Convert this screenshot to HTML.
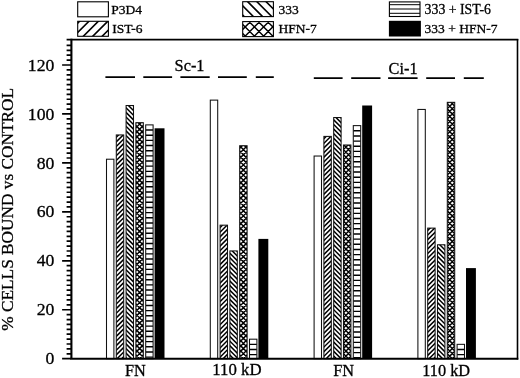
<!DOCTYPE html>
<html><head><meta charset="utf-8"><title>Figure</title>
<style>
html,body{margin:0;padding:0;background:#fff;}
svg{display:block;font-family:"Liberation Serif",serif;fill:#000;}
</style></head><body>
<svg width="520" height="378" viewBox="0 0 520 378">
<defs>
</defs>
<rect width="520" height="378" fill="#fff"/>
<defs><clipPath id="c1"><rect x="116.30" y="134.94" width="7.40" height="223.76"/></clipPath><clipPath id="c2"><rect x="126.10" y="105.52" width="7.40" height="253.18"/></clipPath><clipPath id="c3"><rect x="135.90" y="122.68" width="7.40" height="236.02"/></clipPath><clipPath id="c4"><rect x="145.70" y="124.89" width="7.40" height="233.81"/></clipPath><clipPath id="c5"><rect x="220.10" y="225.18" width="7.40" height="133.52"/></clipPath><clipPath id="c6"><rect x="229.90" y="250.92" width="7.40" height="107.78"/></clipPath><clipPath id="c7"><rect x="239.70" y="145.73" width="7.40" height="212.97"/></clipPath><clipPath id="c8"><rect x="249.50" y="339.19" width="7.40" height="19.51"/></clipPath><clipPath id="c9"><rect x="323.90" y="136.41" width="7.40" height="222.29"/></clipPath><clipPath id="c10"><rect x="333.70" y="117.53" width="7.40" height="241.17"/></clipPath><clipPath id="c11"><rect x="343.50" y="145.00" width="7.40" height="213.70"/></clipPath><clipPath id="c12"><rect x="353.30" y="125.62" width="7.40" height="233.08"/></clipPath><clipPath id="c13"><rect x="427.70" y="228.12" width="7.40" height="130.58"/></clipPath><clipPath id="c14"><rect x="437.50" y="244.79" width="7.40" height="113.91"/></clipPath><clipPath id="c15"><rect x="447.30" y="102.33" width="7.40" height="256.37"/></clipPath><clipPath id="c16"><rect x="457.10" y="344.34" width="7.40" height="14.36"/></clipPath></defs>
<g>
<rect x="106.50" y="159.22" width="7.40" height="199.48" fill="none" stroke="#111" stroke-width="1.05"/>
<path clip-path="url(#c1)" d="M115.30,138.24 L124.70,128.84 M115.30,142.87 L124.70,133.47 M115.30,147.50 L124.70,138.10 M115.30,152.13 L124.70,142.73 M115.30,156.76 L124.70,147.36 M115.30,161.39 L124.70,151.99 M115.30,166.02 L124.70,156.62 M115.30,170.65 L124.70,161.25 M115.30,175.28 L124.70,165.88 M115.30,179.91 L124.70,170.51 M115.30,184.54 L124.70,175.14 M115.30,189.17 L124.70,179.77 M115.30,193.80 L124.70,184.40 M115.30,198.43 L124.70,189.03 M115.30,203.06 L124.70,193.66 M115.30,207.69 L124.70,198.29 M115.30,212.32 L124.70,202.92 M115.30,216.95 L124.70,207.55 M115.30,221.58 L124.70,212.18 M115.30,226.21 L124.70,216.81 M115.30,230.84 L124.70,221.44 M115.30,235.47 L124.70,226.07 M115.30,240.10 L124.70,230.70 M115.30,244.73 L124.70,235.33 M115.30,249.36 L124.70,239.96 M115.30,253.99 L124.70,244.59 M115.30,258.62 L124.70,249.22 M115.30,263.25 L124.70,253.85 M115.30,267.88 L124.70,258.48 M115.30,272.51 L124.70,263.11 M115.30,277.14 L124.70,267.74 M115.30,281.77 L124.70,272.37 M115.30,286.40 L124.70,277.00 M115.30,291.03 L124.70,281.63 M115.30,295.66 L124.70,286.26 M115.30,300.29 L124.70,290.89 M115.30,304.92 L124.70,295.52 M115.30,309.55 L124.70,300.15 M115.30,314.18 L124.70,304.78 M115.30,318.81 L124.70,309.41 M115.30,323.44 L124.70,314.04 M115.30,328.07 L124.70,318.67 M115.30,332.70 L124.70,323.30 M115.30,337.33 L124.70,327.93 M115.30,341.96 L124.70,332.56 M115.30,346.59 L124.70,337.19 M115.30,351.22 L124.70,341.82 M115.30,355.85 L124.70,346.45 M115.30,360.48 L124.70,351.08 M115.30,365.11 L124.70,355.71 " stroke="#000" stroke-width="1.5" fill="none"/>
<rect x="116.30" y="134.94" width="7.40" height="223.76" fill="none" stroke="#111" stroke-width="1.05"/>
<path clip-path="url(#c2)" d="M125.10,356.84 L134.50,366.24 M125.10,352.21 L134.50,361.61 M125.10,347.58 L134.50,356.98 M125.10,342.95 L134.50,352.35 M125.10,338.32 L134.50,347.72 M125.10,333.69 L134.50,343.09 M125.10,329.06 L134.50,338.46 M125.10,324.43 L134.50,333.83 M125.10,319.80 L134.50,329.20 M125.10,315.17 L134.50,324.57 M125.10,310.54 L134.50,319.94 M125.10,305.91 L134.50,315.31 M125.10,301.28 L134.50,310.68 M125.10,296.65 L134.50,306.05 M125.10,292.02 L134.50,301.42 M125.10,287.39 L134.50,296.79 M125.10,282.76 L134.50,292.16 M125.10,278.13 L134.50,287.53 M125.10,273.50 L134.50,282.90 M125.10,268.87 L134.50,278.27 M125.10,264.24 L134.50,273.64 M125.10,259.61 L134.50,269.01 M125.10,254.98 L134.50,264.38 M125.10,250.35 L134.50,259.75 M125.10,245.72 L134.50,255.12 M125.10,241.09 L134.50,250.49 M125.10,236.46 L134.50,245.86 M125.10,231.83 L134.50,241.23 M125.10,227.20 L134.50,236.60 M125.10,222.57 L134.50,231.97 M125.10,217.94 L134.50,227.34 M125.10,213.31 L134.50,222.71 M125.10,208.68 L134.50,218.08 M125.10,204.05 L134.50,213.45 M125.10,199.42 L134.50,208.82 M125.10,194.79 L134.50,204.19 M125.10,190.16 L134.50,199.56 M125.10,185.53 L134.50,194.93 M125.10,180.90 L134.50,190.30 M125.10,176.27 L134.50,185.67 M125.10,171.64 L134.50,181.04 M125.10,167.01 L134.50,176.41 M125.10,162.38 L134.50,171.78 M125.10,157.75 L134.50,167.15 M125.10,153.12 L134.50,162.52 M125.10,148.49 L134.50,157.89 M125.10,143.86 L134.50,153.26 M125.10,139.23 L134.50,148.63 M125.10,134.60 L134.50,144.00 M125.10,129.97 L134.50,139.37 M125.10,125.34 L134.50,134.74 M125.10,120.71 L134.50,130.11 M125.10,116.08 L134.50,125.48 M125.10,111.45 L134.50,120.85 M125.10,106.82 L134.50,116.22 M125.10,102.19 L134.50,111.59 M125.10,97.56 L134.50,106.96 " stroke="#000" stroke-width="1.5" fill="none"/>
<rect x="126.10" y="105.52" width="7.40" height="253.18" fill="none" stroke="#111" stroke-width="1.05"/>
<path clip-path="url(#c3)" d="M134.90,123.70 L144.30,114.30 M134.90,128.80 L144.30,119.40 M134.90,133.90 L144.30,124.50 M134.90,139.00 L144.30,129.60 M134.90,144.10 L144.30,134.70 M134.90,149.20 L144.30,139.80 M134.90,154.30 L144.30,144.90 M134.90,159.40 L144.30,150.00 M134.90,164.50 L144.30,155.10 M134.90,169.60 L144.30,160.20 M134.90,174.70 L144.30,165.30 M134.90,179.80 L144.30,170.40 M134.90,184.90 L144.30,175.50 M134.90,190.00 L144.30,180.60 M134.90,195.10 L144.30,185.70 M134.90,200.20 L144.30,190.80 M134.90,205.30 L144.30,195.90 M134.90,210.40 L144.30,201.00 M134.90,215.50 L144.30,206.10 M134.90,220.60 L144.30,211.20 M134.90,225.70 L144.30,216.30 M134.90,230.80 L144.30,221.40 M134.90,235.90 L144.30,226.50 M134.90,241.00 L144.30,231.60 M134.90,246.10 L144.30,236.70 M134.90,251.20 L144.30,241.80 M134.90,256.30 L144.30,246.90 M134.90,261.40 L144.30,252.00 M134.90,266.50 L144.30,257.10 M134.90,271.60 L144.30,262.20 M134.90,276.70 L144.30,267.30 M134.90,281.80 L144.30,272.40 M134.90,286.90 L144.30,277.50 M134.90,292.00 L144.30,282.60 M134.90,297.10 L144.30,287.70 M134.90,302.20 L144.30,292.80 M134.90,307.30 L144.30,297.90 M134.90,312.40 L144.30,303.00 M134.90,317.50 L144.30,308.10 M134.90,322.60 L144.30,313.20 M134.90,327.70 L144.30,318.30 M134.90,332.80 L144.30,323.40 M134.90,337.90 L144.30,328.50 M134.90,343.00 L144.30,333.60 M134.90,348.10 L144.30,338.70 M134.90,353.20 L144.30,343.80 M134.90,358.30 L144.30,348.90 M134.90,363.40 L144.30,354.00 M134.90,368.50 L144.30,359.10 M134.90,359.10 L144.30,368.50 M134.90,354.00 L144.30,363.40 M134.90,348.90 L144.30,358.30 M134.90,343.80 L144.30,353.20 M134.90,338.70 L144.30,348.10 M134.90,333.60 L144.30,343.00 M134.90,328.50 L144.30,337.90 M134.90,323.40 L144.30,332.80 M134.90,318.30 L144.30,327.70 M134.90,313.20 L144.30,322.60 M134.90,308.10 L144.30,317.50 M134.90,303.00 L144.30,312.40 M134.90,297.90 L144.30,307.30 M134.90,292.80 L144.30,302.20 M134.90,287.70 L144.30,297.10 M134.90,282.60 L144.30,292.00 M134.90,277.50 L144.30,286.90 M134.90,272.40 L144.30,281.80 M134.90,267.30 L144.30,276.70 M134.90,262.20 L144.30,271.60 M134.90,257.10 L144.30,266.50 M134.90,252.00 L144.30,261.40 M134.90,246.90 L144.30,256.30 M134.90,241.80 L144.30,251.20 M134.90,236.70 L144.30,246.10 M134.90,231.60 L144.30,241.00 M134.90,226.50 L144.30,235.90 M134.90,221.40 L144.30,230.80 M134.90,216.30 L144.30,225.70 M134.90,211.20 L144.30,220.60 M134.90,206.10 L144.30,215.50 M134.90,201.00 L144.30,210.40 M134.90,195.90 L144.30,205.30 M134.90,190.80 L144.30,200.20 M134.90,185.70 L144.30,195.10 M134.90,180.60 L144.30,190.00 M134.90,175.50 L144.30,184.90 M134.90,170.40 L144.30,179.80 M134.90,165.30 L144.30,174.70 M134.90,160.20 L144.30,169.60 M134.90,155.10 L144.30,164.50 M134.90,150.00 L144.30,159.40 M134.90,144.90 L144.30,154.30 M134.90,139.80 L144.30,149.20 M134.90,134.70 L144.30,144.10 M134.90,129.60 L144.30,139.00 M134.90,124.50 L144.30,133.90 M134.90,119.40 L144.30,128.80 M134.90,114.30 L144.30,123.70 " stroke="#000" stroke-width="1.45" fill="none"/>
<rect x="135.90" y="122.68" width="7.40" height="236.02" fill="none" stroke="#111" stroke-width="1.05"/>
<path clip-path="url(#c4)" d="M145.70,130.05 H153.10 M145.70,135.21 H153.10 M145.70,140.37 H153.10 M145.70,145.53 H153.10 M145.70,150.69 H153.10 M145.70,155.85 H153.10 M145.70,161.01 H153.10 M145.70,166.17 H153.10 M145.70,171.33 H153.10 M145.70,176.49 H153.10 M145.70,181.65 H153.10 M145.70,186.81 H153.10 M145.70,191.97 H153.10 M145.70,197.13 H153.10 M145.70,202.29 H153.10 M145.70,207.45 H153.10 M145.70,212.61 H153.10 M145.70,217.77 H153.10 M145.70,222.93 H153.10 M145.70,228.09 H153.10 M145.70,233.25 H153.10 M145.70,238.41 H153.10 M145.70,243.57 H153.10 M145.70,248.73 H153.10 M145.70,253.89 H153.10 M145.70,259.05 H153.10 M145.70,264.21 H153.10 M145.70,269.37 H153.10 M145.70,274.53 H153.10 M145.70,279.69 H153.10 M145.70,284.85 H153.10 M145.70,290.01 H153.10 M145.70,295.17 H153.10 M145.70,300.33 H153.10 M145.70,305.49 H153.10 M145.70,310.65 H153.10 M145.70,315.81 H153.10 M145.70,320.97 H153.10 M145.70,326.13 H153.10 M145.70,331.29 H153.10 M145.70,336.45 H153.10 M145.70,341.61 H153.10 M145.70,346.77 H153.10 M145.70,351.93 H153.10 M145.70,357.09 H153.10 " stroke="#000" stroke-width="1.4" fill="none"/>
<rect x="145.70" y="124.89" width="7.40" height="233.81" fill="none" stroke="#111" stroke-width="1.05"/>
<rect x="154.6" y="128.3" width="9.9" height="230.4" fill="#000"/>
<rect x="210.30" y="100.12" width="7.40" height="258.58" fill="none" stroke="#111" stroke-width="1.05"/>
<path clip-path="url(#c5)" d="M219.10,228.48 L228.50,219.08 M219.10,233.11 L228.50,223.71 M219.10,237.74 L228.50,228.34 M219.10,242.37 L228.50,232.97 M219.10,247.00 L228.50,237.60 M219.10,251.63 L228.50,242.23 M219.10,256.26 L228.50,246.86 M219.10,260.89 L228.50,251.49 M219.10,265.52 L228.50,256.12 M219.10,270.15 L228.50,260.75 M219.10,274.78 L228.50,265.38 M219.10,279.41 L228.50,270.01 M219.10,284.04 L228.50,274.64 M219.10,288.67 L228.50,279.27 M219.10,293.30 L228.50,283.90 M219.10,297.93 L228.50,288.53 M219.10,302.56 L228.50,293.16 M219.10,307.19 L228.50,297.79 M219.10,311.82 L228.50,302.42 M219.10,316.45 L228.50,307.05 M219.10,321.08 L228.50,311.68 M219.10,325.71 L228.50,316.31 M219.10,330.34 L228.50,320.94 M219.10,334.97 L228.50,325.57 M219.10,339.60 L228.50,330.20 M219.10,344.23 L228.50,334.83 M219.10,348.86 L228.50,339.46 M219.10,353.49 L228.50,344.09 M219.10,358.12 L228.50,348.72 M219.10,362.75 L228.50,353.35 M219.10,367.38 L228.50,357.98 " stroke="#000" stroke-width="1.5" fill="none"/>
<rect x="220.10" y="225.18" width="7.40" height="133.52" fill="none" stroke="#111" stroke-width="1.05"/>
<path clip-path="url(#c6)" d="M228.90,358.71 L238.30,368.11 M228.90,354.08 L238.30,363.48 M228.90,349.45 L238.30,358.85 M228.90,344.82 L238.30,354.22 M228.90,340.19 L238.30,349.59 M228.90,335.56 L238.30,344.96 M228.90,330.93 L238.30,340.33 M228.90,326.30 L238.30,335.70 M228.90,321.67 L238.30,331.07 M228.90,317.04 L238.30,326.44 M228.90,312.41 L238.30,321.81 M228.90,307.78 L238.30,317.18 M228.90,303.15 L238.30,312.55 M228.90,298.52 L238.30,307.92 M228.90,293.89 L238.30,303.29 M228.90,289.26 L238.30,298.66 M228.90,284.63 L238.30,294.03 M228.90,280.00 L238.30,289.40 M228.90,275.37 L238.30,284.77 M228.90,270.74 L238.30,280.14 M228.90,266.11 L238.30,275.51 M228.90,261.48 L238.30,270.88 M228.90,256.85 L238.30,266.25 M228.90,252.22 L238.30,261.62 M228.90,247.59 L238.30,256.99 M228.90,242.96 L238.30,252.36 " stroke="#000" stroke-width="1.5" fill="none"/>
<rect x="229.90" y="250.92" width="7.40" height="107.78" fill="none" stroke="#111" stroke-width="1.05"/>
<path clip-path="url(#c7)" d="M238.70,149.20 L248.10,139.80 M238.70,154.30 L248.10,144.90 M238.70,159.40 L248.10,150.00 M238.70,164.50 L248.10,155.10 M238.70,169.60 L248.10,160.20 M238.70,174.70 L248.10,165.30 M238.70,179.80 L248.10,170.40 M238.70,184.90 L248.10,175.50 M238.70,190.00 L248.10,180.60 M238.70,195.10 L248.10,185.70 M238.70,200.20 L248.10,190.80 M238.70,205.30 L248.10,195.90 M238.70,210.40 L248.10,201.00 M238.70,215.50 L248.10,206.10 M238.70,220.60 L248.10,211.20 M238.70,225.70 L248.10,216.30 M238.70,230.80 L248.10,221.40 M238.70,235.90 L248.10,226.50 M238.70,241.00 L248.10,231.60 M238.70,246.10 L248.10,236.70 M238.70,251.20 L248.10,241.80 M238.70,256.30 L248.10,246.90 M238.70,261.40 L248.10,252.00 M238.70,266.50 L248.10,257.10 M238.70,271.60 L248.10,262.20 M238.70,276.70 L248.10,267.30 M238.70,281.80 L248.10,272.40 M238.70,286.90 L248.10,277.50 M238.70,292.00 L248.10,282.60 M238.70,297.10 L248.10,287.70 M238.70,302.20 L248.10,292.80 M238.70,307.30 L248.10,297.90 M238.70,312.40 L248.10,303.00 M238.70,317.50 L248.10,308.10 M238.70,322.60 L248.10,313.20 M238.70,327.70 L248.10,318.30 M238.70,332.80 L248.10,323.40 M238.70,337.90 L248.10,328.50 M238.70,343.00 L248.10,333.60 M238.70,348.10 L248.10,338.70 M238.70,353.20 L248.10,343.80 M238.70,358.30 L248.10,348.90 M238.70,363.40 L248.10,354.00 M238.70,368.50 L248.10,359.10 M238.70,359.10 L248.10,368.50 M238.70,354.00 L248.10,363.40 M238.70,348.90 L248.10,358.30 M238.70,343.80 L248.10,353.20 M238.70,338.70 L248.10,348.10 M238.70,333.60 L248.10,343.00 M238.70,328.50 L248.10,337.90 M238.70,323.40 L248.10,332.80 M238.70,318.30 L248.10,327.70 M238.70,313.20 L248.10,322.60 M238.70,308.10 L248.10,317.50 M238.70,303.00 L248.10,312.40 M238.70,297.90 L248.10,307.30 M238.70,292.80 L248.10,302.20 M238.70,287.70 L248.10,297.10 M238.70,282.60 L248.10,292.00 M238.70,277.50 L248.10,286.90 M238.70,272.40 L248.10,281.80 M238.70,267.30 L248.10,276.70 M238.70,262.20 L248.10,271.60 M238.70,257.10 L248.10,266.50 M238.70,252.00 L248.10,261.40 M238.70,246.90 L248.10,256.30 M238.70,241.80 L248.10,251.20 M238.70,236.70 L248.10,246.10 M238.70,231.60 L248.10,241.00 M238.70,226.50 L248.10,235.90 M238.70,221.40 L248.10,230.80 M238.70,216.30 L248.10,225.70 M238.70,211.20 L248.10,220.60 M238.70,206.10 L248.10,215.50 M238.70,201.00 L248.10,210.40 M238.70,195.90 L248.10,205.30 M238.70,190.80 L248.10,200.20 M238.70,185.70 L248.10,195.10 M238.70,180.60 L248.10,190.00 M238.70,175.50 L248.10,184.90 M238.70,170.40 L248.10,179.80 M238.70,165.30 L248.10,174.70 M238.70,160.20 L248.10,169.60 M238.70,155.10 L248.10,164.50 M238.70,150.00 L248.10,159.40 M238.70,144.90 L248.10,154.30 M238.70,139.80 L248.10,149.20 " stroke="#000" stroke-width="1.45" fill="none"/>
<rect x="239.70" y="145.73" width="7.40" height="212.97" fill="none" stroke="#111" stroke-width="1.05"/>
<path clip-path="url(#c8)" d="M249.50,344.35 H256.90 M249.50,349.51 H256.90 M249.50,354.67 H256.90 " stroke="#000" stroke-width="1.4" fill="none"/>
<rect x="249.50" y="339.19" width="7.40" height="19.51" fill="none" stroke="#111" stroke-width="1.05"/>
<rect x="258.4" y="238.9" width="9.9" height="119.8" fill="#000"/>
<rect x="314.10" y="156.03" width="7.40" height="202.67" fill="none" stroke="#111" stroke-width="1.05"/>
<path clip-path="url(#c9)" d="M322.90,139.71 L332.30,130.31 M322.90,144.34 L332.30,134.94 M322.90,148.97 L332.30,139.57 M322.90,153.60 L332.30,144.20 M322.90,158.23 L332.30,148.83 M322.90,162.86 L332.30,153.46 M322.90,167.49 L332.30,158.09 M322.90,172.12 L332.30,162.72 M322.90,176.75 L332.30,167.35 M322.90,181.38 L332.30,171.98 M322.90,186.01 L332.30,176.61 M322.90,190.64 L332.30,181.24 M322.90,195.27 L332.30,185.87 M322.90,199.90 L332.30,190.50 M322.90,204.53 L332.30,195.13 M322.90,209.16 L332.30,199.76 M322.90,213.79 L332.30,204.39 M322.90,218.42 L332.30,209.02 M322.90,223.05 L332.30,213.65 M322.90,227.68 L332.30,218.28 M322.90,232.31 L332.30,222.91 M322.90,236.94 L332.30,227.54 M322.90,241.57 L332.30,232.17 M322.90,246.20 L332.30,236.80 M322.90,250.83 L332.30,241.43 M322.90,255.46 L332.30,246.06 M322.90,260.09 L332.30,250.69 M322.90,264.72 L332.30,255.32 M322.90,269.35 L332.30,259.95 M322.90,273.98 L332.30,264.58 M322.90,278.61 L332.30,269.21 M322.90,283.24 L332.30,273.84 M322.90,287.87 L332.30,278.47 M322.90,292.50 L332.30,283.10 M322.90,297.13 L332.30,287.73 M322.90,301.76 L332.30,292.36 M322.90,306.39 L332.30,296.99 M322.90,311.02 L332.30,301.62 M322.90,315.65 L332.30,306.25 M322.90,320.28 L332.30,310.88 M322.90,324.91 L332.30,315.51 M322.90,329.54 L332.30,320.14 M322.90,334.17 L332.30,324.77 M322.90,338.80 L332.30,329.40 M322.90,343.43 L332.30,334.03 M322.90,348.06 L332.30,338.66 M322.90,352.69 L332.30,343.29 M322.90,357.32 L332.30,347.92 M322.90,361.95 L332.30,352.55 M322.90,366.58 L332.30,357.18 " stroke="#000" stroke-width="1.5" fill="none"/>
<rect x="323.90" y="136.41" width="7.40" height="222.29" fill="none" stroke="#111" stroke-width="1.05"/>
<path clip-path="url(#c10)" d="M332.70,359.59 L342.10,368.99 M332.70,354.96 L342.10,364.36 M332.70,350.33 L342.10,359.73 M332.70,345.70 L342.10,355.10 M332.70,341.07 L342.10,350.47 M332.70,336.44 L342.10,345.84 M332.70,331.81 L342.10,341.21 M332.70,327.18 L342.10,336.58 M332.70,322.55 L342.10,331.95 M332.70,317.92 L342.10,327.32 M332.70,313.29 L342.10,322.69 M332.70,308.66 L342.10,318.06 M332.70,304.03 L342.10,313.43 M332.70,299.40 L342.10,308.80 M332.70,294.77 L342.10,304.17 M332.70,290.14 L342.10,299.54 M332.70,285.51 L342.10,294.91 M332.70,280.88 L342.10,290.28 M332.70,276.25 L342.10,285.65 M332.70,271.62 L342.10,281.02 M332.70,266.99 L342.10,276.39 M332.70,262.36 L342.10,271.76 M332.70,257.73 L342.10,267.13 M332.70,253.10 L342.10,262.50 M332.70,248.47 L342.10,257.87 M332.70,243.84 L342.10,253.24 M332.70,239.21 L342.10,248.61 M332.70,234.58 L342.10,243.98 M332.70,229.95 L342.10,239.35 M332.70,225.32 L342.10,234.72 M332.70,220.69 L342.10,230.09 M332.70,216.06 L342.10,225.46 M332.70,211.43 L342.10,220.83 M332.70,206.80 L342.10,216.20 M332.70,202.17 L342.10,211.57 M332.70,197.54 L342.10,206.94 M332.70,192.91 L342.10,202.31 M332.70,188.28 L342.10,197.68 M332.70,183.65 L342.10,193.05 M332.70,179.02 L342.10,188.42 M332.70,174.39 L342.10,183.79 M332.70,169.76 L342.10,179.16 M332.70,165.13 L342.10,174.53 M332.70,160.50 L342.10,169.90 M332.70,155.87 L342.10,165.27 M332.70,151.24 L342.10,160.64 M332.70,146.61 L342.10,156.01 M332.70,141.98 L342.10,151.38 M332.70,137.35 L342.10,146.75 M332.70,132.72 L342.10,142.12 M332.70,128.09 L342.10,137.49 M332.70,123.46 L342.10,132.86 M332.70,118.83 L342.10,128.23 M332.70,114.20 L342.10,123.60 M332.70,109.57 L342.10,118.97 " stroke="#000" stroke-width="1.5" fill="none"/>
<rect x="333.70" y="117.53" width="7.40" height="241.17" fill="none" stroke="#111" stroke-width="1.05"/>
<path clip-path="url(#c11)" d="M342.50,145.38 L351.90,135.98 M342.50,150.47 L351.90,141.07 M342.50,155.57 L351.90,146.17 M342.50,160.67 L351.90,151.27 M342.50,165.77 L351.90,156.38 M342.50,170.88 L351.90,161.48 M342.50,175.97 L351.90,166.57 M342.50,181.07 L351.90,171.67 M342.50,186.17 L351.90,176.77 M342.50,191.27 L351.90,181.88 M342.50,196.38 L351.90,186.98 M342.50,201.47 L351.90,192.07 M342.50,206.57 L351.90,197.17 M342.50,211.67 L351.90,202.27 M342.50,216.77 L351.90,207.38 M342.50,221.88 L351.90,212.48 M342.50,226.97 L351.90,217.57 M342.50,232.07 L351.90,222.67 M342.50,237.17 L351.90,227.77 M342.50,242.27 L351.90,232.88 M342.50,247.38 L351.90,237.98 M342.50,252.47 L351.90,243.07 M342.50,257.57 L351.90,248.17 M342.50,262.67 L351.90,253.27 M342.50,267.77 L351.90,258.38 M342.50,272.88 L351.90,263.48 M342.50,277.97 L351.90,268.57 M342.50,283.07 L351.90,273.67 M342.50,288.17 L351.90,278.77 M342.50,293.27 L351.90,283.88 M342.50,298.38 L351.90,288.98 M342.50,303.47 L351.90,294.07 M342.50,308.57 L351.90,299.17 M342.50,313.67 L351.90,304.27 M342.50,318.77 L351.90,309.38 M342.50,323.88 L351.90,314.48 M342.50,328.97 L351.90,319.57 M342.50,334.07 L351.90,324.67 M342.50,339.17 L351.90,329.77 M342.50,344.27 L351.90,334.88 M342.50,349.38 L351.90,339.98 M342.50,354.47 L351.90,345.07 M342.50,359.57 L351.90,350.17 M342.50,364.67 L351.90,355.27 M342.50,357.82 L351.90,367.22 M342.50,352.73 L351.90,362.12 M342.50,347.62 L351.90,357.02 M342.50,342.52 L351.90,351.92 M342.50,337.43 L351.90,346.82 M342.50,332.32 L351.90,341.72 M342.50,327.23 L351.90,336.62 M342.50,322.12 L351.90,331.52 M342.50,317.02 L351.90,326.42 M342.50,311.93 L351.90,321.32 M342.50,306.82 L351.90,316.22 M342.50,301.73 L351.90,311.12 M342.50,296.62 L351.90,306.02 M342.50,291.52 L351.90,300.92 M342.50,286.43 L351.90,295.82 M342.50,281.32 L351.90,290.72 M342.50,276.23 L351.90,285.62 M342.50,271.12 L351.90,280.52 M342.50,266.02 L351.90,275.42 M342.50,260.93 L351.90,270.32 M342.50,255.82 L351.90,265.22 M342.50,250.72 L351.90,260.12 M342.50,245.62 L351.90,255.02 M342.50,240.53 L351.90,249.92 M342.50,235.43 L351.90,244.82 M342.50,230.32 L351.90,239.72 M342.50,225.23 L351.90,234.62 M342.50,220.12 L351.90,229.52 M342.50,215.03 L351.90,224.42 M342.50,209.93 L351.90,219.32 M342.50,204.83 L351.90,214.22 M342.50,199.72 L351.90,209.12 M342.50,194.62 L351.90,204.02 M342.50,189.53 L351.90,198.92 M342.50,184.43 L351.90,193.82 M342.50,179.33 L351.90,188.72 M342.50,174.22 L351.90,183.62 M342.50,169.12 L351.90,178.52 M342.50,164.03 L351.90,173.42 M342.50,158.93 L351.90,168.32 M342.50,153.83 L351.90,163.22 M342.50,148.72 L351.90,158.12 M342.50,143.62 L351.90,153.02 M342.50,138.53 L351.90,147.92 " stroke="#000" stroke-width="1.45" fill="none"/>
<rect x="343.50" y="145.00" width="7.40" height="213.70" fill="none" stroke="#111" stroke-width="1.05"/>
<path clip-path="url(#c12)" d="M353.30,130.78 H360.70 M353.30,135.94 H360.70 M353.30,141.10 H360.70 M353.30,146.26 H360.70 M353.30,151.42 H360.70 M353.30,156.58 H360.70 M353.30,161.74 H360.70 M353.30,166.90 H360.70 M353.30,172.06 H360.70 M353.30,177.22 H360.70 M353.30,182.38 H360.70 M353.30,187.54 H360.70 M353.30,192.70 H360.70 M353.30,197.86 H360.70 M353.30,203.02 H360.70 M353.30,208.18 H360.70 M353.30,213.34 H360.70 M353.30,218.50 H360.70 M353.30,223.66 H360.70 M353.30,228.82 H360.70 M353.30,233.98 H360.70 M353.30,239.14 H360.70 M353.30,244.30 H360.70 M353.30,249.46 H360.70 M353.30,254.62 H360.70 M353.30,259.78 H360.70 M353.30,264.94 H360.70 M353.30,270.10 H360.70 M353.30,275.26 H360.70 M353.30,280.42 H360.70 M353.30,285.58 H360.70 M353.30,290.74 H360.70 M353.30,295.90 H360.70 M353.30,301.06 H360.70 M353.30,306.22 H360.70 M353.30,311.38 H360.70 M353.30,316.54 H360.70 M353.30,321.70 H360.70 M353.30,326.86 H360.70 M353.30,332.02 H360.70 M353.30,337.18 H360.70 M353.30,342.34 H360.70 M353.30,347.50 H360.70 M353.30,352.66 H360.70 M353.30,357.82 H360.70 " stroke="#000" stroke-width="1.4" fill="none"/>
<rect x="353.30" y="125.62" width="7.40" height="233.08" fill="none" stroke="#111" stroke-width="1.05"/>
<rect x="362.2" y="105.5" width="9.9" height="253.2" fill="#000"/>
<rect x="417.90" y="109.44" width="7.40" height="249.26" fill="none" stroke="#111" stroke-width="1.05"/>
<path clip-path="url(#c13)" d="M426.70,231.42 L436.10,222.02 M426.70,236.05 L436.10,226.65 M426.70,240.68 L436.10,231.28 M426.70,245.31 L436.10,235.91 M426.70,249.94 L436.10,240.54 M426.70,254.57 L436.10,245.17 M426.70,259.20 L436.10,249.80 M426.70,263.83 L436.10,254.43 M426.70,268.46 L436.10,259.06 M426.70,273.09 L436.10,263.69 M426.70,277.72 L436.10,268.32 M426.70,282.35 L436.10,272.95 M426.70,286.98 L436.10,277.58 M426.70,291.61 L436.10,282.21 M426.70,296.24 L436.10,286.84 M426.70,300.87 L436.10,291.47 M426.70,305.50 L436.10,296.10 M426.70,310.13 L436.10,300.73 M426.70,314.76 L436.10,305.36 M426.70,319.39 L436.10,309.99 M426.70,324.02 L436.10,314.62 M426.70,328.65 L436.10,319.25 M426.70,333.28 L436.10,323.88 M426.70,337.91 L436.10,328.51 M426.70,342.54 L436.10,333.14 M426.70,347.17 L436.10,337.77 M426.70,351.80 L436.10,342.40 M426.70,356.43 L436.10,347.03 M426.70,361.06 L436.10,351.66 M426.70,365.69 L436.10,356.29 " stroke="#000" stroke-width="1.5" fill="none"/>
<rect x="427.70" y="228.12" width="7.40" height="130.58" fill="none" stroke="#111" stroke-width="1.05"/>
<path clip-path="url(#c14)" d="M436.50,357.21 L445.90,366.61 M436.50,352.58 L445.90,361.98 M436.50,347.95 L445.90,357.35 M436.50,343.32 L445.90,352.72 M436.50,338.69 L445.90,348.09 M436.50,334.06 L445.90,343.46 M436.50,329.43 L445.90,338.83 M436.50,324.80 L445.90,334.20 M436.50,320.17 L445.90,329.57 M436.50,315.54 L445.90,324.94 M436.50,310.91 L445.90,320.31 M436.50,306.28 L445.90,315.68 M436.50,301.65 L445.90,311.05 M436.50,297.02 L445.90,306.42 M436.50,292.39 L445.90,301.79 M436.50,287.76 L445.90,297.16 M436.50,283.13 L445.90,292.53 M436.50,278.50 L445.90,287.90 M436.50,273.87 L445.90,283.27 M436.50,269.24 L445.90,278.64 M436.50,264.61 L445.90,274.01 M436.50,259.98 L445.90,269.38 M436.50,255.35 L445.90,264.75 M436.50,250.72 L445.90,260.12 M436.50,246.09 L445.90,255.49 M436.50,241.46 L445.90,250.86 M436.50,236.83 L445.90,246.23 " stroke="#000" stroke-width="1.5" fill="none"/>
<rect x="437.50" y="244.79" width="7.40" height="113.91" fill="none" stroke="#111" stroke-width="1.05"/>
<path clip-path="url(#c15)" d="M446.30,104.58 L455.70,95.18 M446.30,109.67 L455.70,100.27 M446.30,114.77 L455.70,105.38 M446.30,119.88 L455.70,110.48 M446.30,124.97 L455.70,115.57 M446.30,130.07 L455.70,120.67 M446.30,135.17 L455.70,125.77 M446.30,140.27 L455.70,130.88 M446.30,145.38 L455.70,135.98 M446.30,150.47 L455.70,141.07 M446.30,155.57 L455.70,146.17 M446.30,160.67 L455.70,151.27 M446.30,165.77 L455.70,156.38 M446.30,170.88 L455.70,161.48 M446.30,175.97 L455.70,166.57 M446.30,181.07 L455.70,171.67 M446.30,186.17 L455.70,176.77 M446.30,191.27 L455.70,181.88 M446.30,196.38 L455.70,186.98 M446.30,201.47 L455.70,192.07 M446.30,206.57 L455.70,197.17 M446.30,211.67 L455.70,202.27 M446.30,216.77 L455.70,207.38 M446.30,221.88 L455.70,212.48 M446.30,226.97 L455.70,217.57 M446.30,232.07 L455.70,222.67 M446.30,237.17 L455.70,227.77 M446.30,242.27 L455.70,232.88 M446.30,247.38 L455.70,237.98 M446.30,252.47 L455.70,243.07 M446.30,257.57 L455.70,248.17 M446.30,262.67 L455.70,253.27 M446.30,267.77 L455.70,258.38 M446.30,272.88 L455.70,263.48 M446.30,277.97 L455.70,268.57 M446.30,283.07 L455.70,273.67 M446.30,288.17 L455.70,278.77 M446.30,293.27 L455.70,283.88 M446.30,298.38 L455.70,288.98 M446.30,303.47 L455.70,294.07 M446.30,308.57 L455.70,299.17 M446.30,313.67 L455.70,304.27 M446.30,318.77 L455.70,309.38 M446.30,323.88 L455.70,314.48 M446.30,328.97 L455.70,319.57 M446.30,334.07 L455.70,324.67 M446.30,339.17 L455.70,329.77 M446.30,344.27 L455.70,334.88 M446.30,349.38 L455.70,339.98 M446.30,354.47 L455.70,345.07 M446.30,359.57 L455.70,350.17 M446.30,364.67 L455.70,355.27 M446.30,357.82 L455.70,367.22 M446.30,352.73 L455.70,362.12 M446.30,347.62 L455.70,357.02 M446.30,342.52 L455.70,351.92 M446.30,337.43 L455.70,346.82 M446.30,332.32 L455.70,341.72 M446.30,327.23 L455.70,336.62 M446.30,322.12 L455.70,331.52 M446.30,317.02 L455.70,326.42 M446.30,311.93 L455.70,321.32 M446.30,306.82 L455.70,316.22 M446.30,301.73 L455.70,311.12 M446.30,296.62 L455.70,306.02 M446.30,291.52 L455.70,300.92 M446.30,286.43 L455.70,295.82 M446.30,281.32 L455.70,290.72 M446.30,276.23 L455.70,285.62 M446.30,271.12 L455.70,280.52 M446.30,266.02 L455.70,275.42 M446.30,260.93 L455.70,270.32 M446.30,255.82 L455.70,265.22 M446.30,250.72 L455.70,260.12 M446.30,245.62 L455.70,255.02 M446.30,240.53 L455.70,249.92 M446.30,235.43 L455.70,244.82 M446.30,230.32 L455.70,239.72 M446.30,225.23 L455.70,234.62 M446.30,220.12 L455.70,229.52 M446.30,215.03 L455.70,224.42 M446.30,209.93 L455.70,219.32 M446.30,204.83 L455.70,214.22 M446.30,199.72 L455.70,209.12 M446.30,194.62 L455.70,204.02 M446.30,189.52 L455.70,198.92 M446.30,184.43 L455.70,193.82 M446.30,179.33 L455.70,188.73 M446.30,174.23 L455.70,183.62 M446.30,169.12 L455.70,178.52 M446.30,164.02 L455.70,173.42 M446.30,158.93 L455.70,168.32 M446.30,153.83 L455.70,163.23 M446.30,148.73 L455.70,158.12 M446.30,143.62 L455.70,153.02 M446.30,138.52 L455.70,147.92 M446.30,133.43 L455.70,142.82 M446.30,128.33 L455.70,137.73 M446.30,123.23 L455.70,132.62 M446.30,118.12 L455.70,127.52 M446.30,113.02 L455.70,122.42 M446.30,107.93 L455.70,117.32 M446.30,102.83 L455.70,112.23 M446.30,97.73 L455.70,107.12 M446.30,92.62 L455.70,102.02 " stroke="#000" stroke-width="1.45" fill="none"/>
<rect x="447.30" y="102.33" width="7.40" height="256.37" fill="none" stroke="#111" stroke-width="1.05"/>
<path clip-path="url(#c16)" d="M457.10,349.50 H464.50 M457.10,354.66 H464.50 " stroke="#000" stroke-width="1.4" fill="none"/>
<rect x="457.10" y="344.34" width="7.40" height="14.36" fill="none" stroke="#111" stroke-width="1.05"/>
<rect x="466.0" y="268.1" width="9.9" height="90.6" fill="#000"/>
</g>
<g stroke="#000" fill="none">
<path d="M71.4,38.8 V358.7" stroke-width="2.1"/>
<path d="M70.3,358.7 H518.3" stroke-width="1.9"/>
<path d="M66.6,39.7 H518.3" stroke-width="1.7"/>
<path d="M517.5,38.9 V359.59999999999997" stroke-width="1.6"/>
<path d="M62.1,358.70 H71 M66.6,353.81 H71 M66.6,348.91 H71 M66.6,344.01 H71 M66.6,339.12 H71 M66.6,334.22 H71 M66.6,329.33 H71 M66.6,324.44 H71 M66.6,319.54 H71 M66.6,314.64 H71 M62.1,309.75 H71 M66.6,304.86 H71 M66.6,299.96 H71 M66.6,295.06 H71 M66.6,290.17 H71 M66.6,285.27 H71 M66.6,280.38 H71 M66.6,275.49 H71 M66.6,270.59 H71 M66.6,265.69 H71 M62.1,260.80 H71 M66.6,255.91 H71 M66.6,251.01 H71 M66.6,246.12 H71 M66.6,241.22 H71 M66.6,236.32 H71 M66.6,231.43 H71 M66.6,226.53 H71 M66.6,221.64 H71 M66.6,216.75 H71 M62.1,211.85 H71 M66.6,206.96 H71 M66.6,202.06 H71 M66.6,197.16 H71 M66.6,192.27 H71 M66.6,187.38 H71 M66.6,182.48 H71 M66.6,177.59 H71 M66.6,172.69 H71 M66.6,167.80 H71 M62.1,162.90 H71 M66.6,158.00 H71 M66.6,153.11 H71 M66.6,148.22 H71 M66.6,143.32 H71 M66.6,138.43 H71 M66.6,133.53 H71 M66.6,128.64 H71 M66.6,123.74 H71 M66.6,118.84 H71 M62.1,113.95 H71 M66.6,109.06 H71 M66.6,104.16 H71 M66.6,99.26 H71 M66.6,94.37 H71 M66.6,89.48 H71 M66.6,84.58 H71 M66.6,79.69 H71 M66.6,74.79 H71 M66.6,69.90 H71 M62.1,65.00 H71 M66.6,60.11 H71 M66.6,55.21 H71 M66.6,50.31 H71 M66.6,45.42 H71 " stroke-width="1.7"/>
<path d="M105.4,77.2 H135 M143.3,77.2 H172.1 M180.4,77.2 H209.7 M218,77.2 H246.8 M255.8,77.2 H273.8" stroke-width="1.8"/>
<path d="M313.8,78.2 H342.6 M351.2,78.2 H380.5 M388.1,78.2 H417.6 M426.2,78.2 H455 M463.8,78.2 H483.8" stroke-width="1.8"/>
</g>
<g font-size="16.3" stroke="#000" stroke-width="0.3">
<text x="54.4" y="364.3" text-anchor="end" font-size="17.7">0</text>
<text x="54.4" y="315.4" text-anchor="end" font-size="17.7">20</text>
<text x="54.4" y="266.4" text-anchor="end" font-size="17.7">40</text>
<text x="54.4" y="217.4" text-anchor="end" font-size="17.7">60</text>
<text x="54.4" y="168.5" text-anchor="end" font-size="17.7">80</text>
<text x="54.4" y="119.6" text-anchor="end" font-size="17.7">100</text>
<text x="54.4" y="70.6" text-anchor="end" font-size="17.7">120</text>
<text x="174.6" y="71.2">Sc-1</text>
<text x="388.6" y="73.8">Ci-1</text>
<text x="135.3" y="375.5" text-anchor="middle">FN</text>
<text x="236.9" y="375.3" text-anchor="middle" font-size="16.8">110 kD</text>
<text x="343.6" y="375.6" text-anchor="middle">FN</text>
<text x="446.2" y="375.5" text-anchor="middle" font-size="16.3">110 kD</text>
<text transform="translate(13.2,209.3) rotate(-90)" text-anchor="middle" font-size="17.3">% CELLS BOUND vs CONTROL</text>
</g>
<defs><clipPath id="l1"><rect x="77.70" y="21.30" width="30.70" height="15.00"/></clipPath><clipPath id="l2"><rect x="242.70" y="1.70" width="30.70" height="14.90"/></clipPath><clipPath id="l3"><rect x="242.70" y="21.60" width="30.70" height="15.00"/></clipPath><clipPath id="l4"><rect x="389.40" y="1.90" width="30.60" height="14.60"/></clipPath></defs>
<g>
<rect x="77.70" y="1.80" width="30.70" height="15.00" fill="none" stroke="#000" stroke-width="1.1"/>
<path clip-path="url(#l1)" d="M76.70,24.10 L109.40,-8.60 M76.70,33.50 L109.40,0.80 M76.70,42.90 L109.40,10.20 M76.70,52.30 L109.40,19.60 M76.70,61.70 L109.40,29.00 " stroke="#000" stroke-width="1.6" fill="none"/>
<rect x="77.70" y="21.30" width="30.70" height="15.00" fill="none" stroke="#000" stroke-width="1.1"/>
<path clip-path="url(#l2)" d="M241.70,14.10 L274.40,46.80 M241.70,4.90 L274.40,37.60 M241.70,-4.30 L274.40,28.40 M241.70,-13.50 L274.40,19.20 M241.70,-22.70 L274.40,10.00 M241.70,-31.90 L274.40,0.80 " stroke="#000" stroke-width="1.6" fill="none"/>
<rect x="242.70" y="1.70" width="30.70" height="14.90" fill="none" stroke="#000" stroke-width="1.1"/>
<path clip-path="url(#l3)" d="M241.70,21.20 L274.40,-11.50 M241.70,30.40 L274.40,-2.30 M241.70,39.60 L274.40,6.90 M241.70,48.80 L274.40,16.10 M241.70,58.00 L274.40,25.30 M241.70,67.20 L274.40,34.50 M241.70,32.60 L274.40,65.30 M241.70,23.40 L274.40,56.10 M241.70,14.20 L274.40,46.90 M241.70,5.00 L274.40,37.70 M241.70,-4.20 L274.40,28.50 " stroke="#000" stroke-width="1.45" fill="none"/>
<rect x="242.70" y="21.60" width="30.70" height="15.00" fill="none" stroke="#000" stroke-width="1.1"/>
<path clip-path="url(#l4)" d="M389.4,4.7 H420.0 M389.4,9 H420.0 M389.4,13.3 H420.0" stroke="#000" stroke-width="1.0" fill="none"/>
<rect x="389.40" y="1.90" width="30.60" height="14.60" fill="none" stroke="#000" stroke-width="1.1"/>
<rect x="388.9" y="20.8" width="32" height="15.7" fill="#000"/>
</g>
<g font-size="13.5" stroke="#000" stroke-width="0.3">
<text x="111.3" y="14.0">P3D4</text>
<text x="112.3" y="33.1">IST-6</text>
<text x="278.6" y="14">333</text>
<text x="278.4" y="33.1">HFN-7</text>
<text x="424.6" y="14.2" font-size="13.8">333 + IST-6</text>
<text x="424.6" y="33.2" font-size="13.5">333 + HFN-7</text>
</g>
</svg></body></html>
